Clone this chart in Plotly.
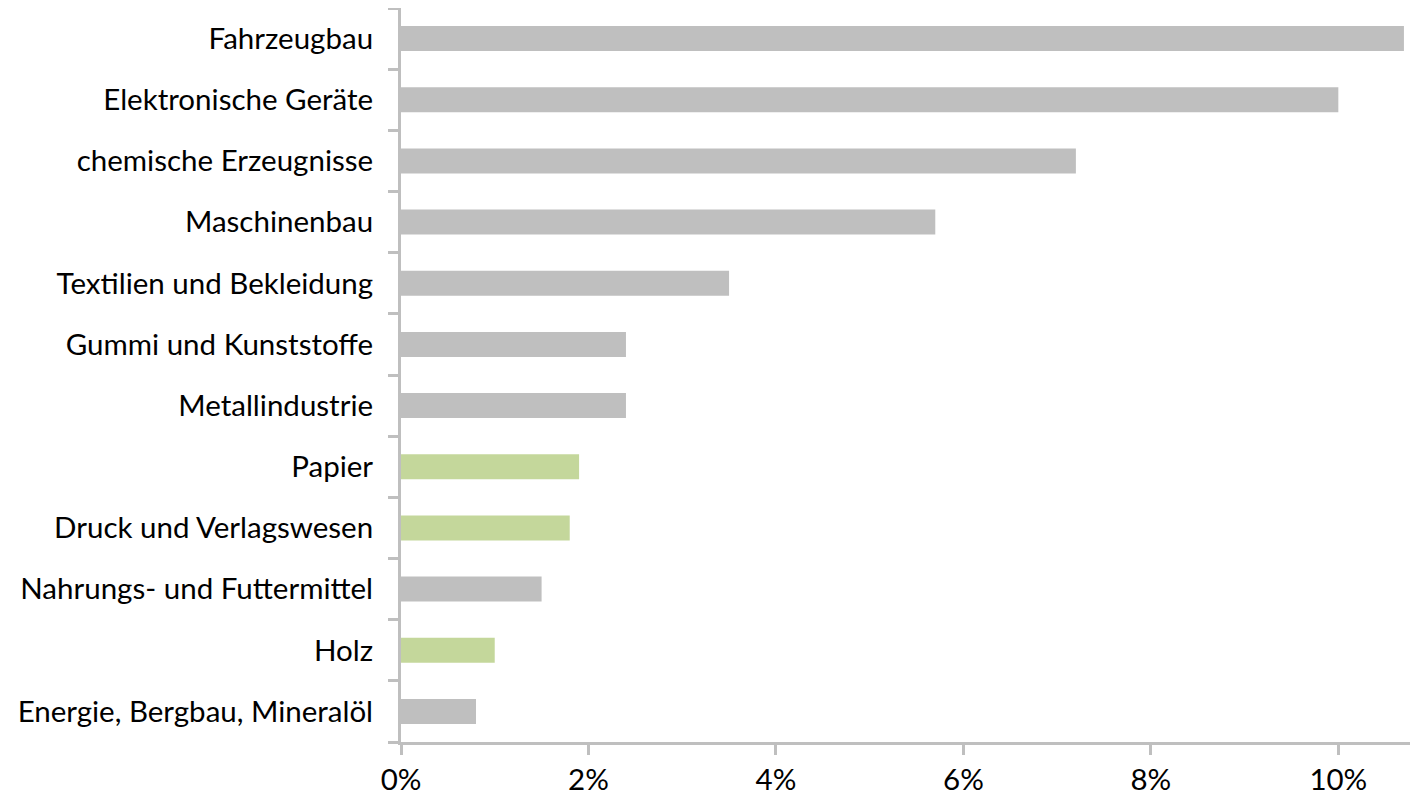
import plotly.graph_objects as go

categories = ['Fahrzeugbau', 'Elektronische Geräte', 'chemische Erzeugnisse', 'Maschinenbau',
              'Textilien und Bekleidung', 'Gummi und Kunststoffe', 'Metallindustrie', 'Papier',
              'Druck und Verlagswesen', 'Nahrungs- und Futtermittel', 'Holz',
              'Energie, Bergbau, Mineralöl']
values = [10.7, 10.0, 7.2, 5.7, 3.5, 2.4, 2.4, 1.9, 1.8, 1.5, 1.0, 0.8]
highlight = ['Papier', 'Druck und Verlagswesen', 'Holz']

GRAY = '#BFBFBF'
GREEN = '#C4D79B'
colors = [GREEN if c in highlight else GRAY for c in categories]

fig = go.Figure()
fig.add_trace(go.Bar(
    y=categories[::-1], x=[v / 100 for v in values[::-1]], orientation='h',
    marker=dict(color=colors[::-1], line=dict(width=0)), width=0.41,
))

# page body has an 8px margin, so the figure is sized/offset to compensate
fig.update_layout(
    width=1410, height=789,
    margin=dict(l=393, r=0, t=0, b=55),
    plot_bgcolor='white', paper_bgcolor='white',
    font=dict(family='Lato, Open Sans, sans-serif', size=29.5, color='black'),
    showlegend=False,
)
fig.update_xaxes(
    range=[0, 0.1085], tickvals=[0, 0.02, 0.04, 0.06, 0.08, 0.10], tickformat='.0%',
    showgrid=False, zeroline=False, showline=True, linecolor=GRAY, linewidth=3,
    ticks='outside', ticklen=10, tickwidth=3, tickcolor=GRAY, ticklabelstandoff=0,
    automargin=False,
)
fig.update_yaxes(
    showgrid=False, zeroline=False, showline=True, linecolor=GRAY, linewidth=3,
    ticks='outside', tickson='boundaries', ticklen=10, tickwidth=3, tickcolor=GRAY,
    ticklabelstandoff=19, automargin=False,
)

fig.write_html('out.html')
